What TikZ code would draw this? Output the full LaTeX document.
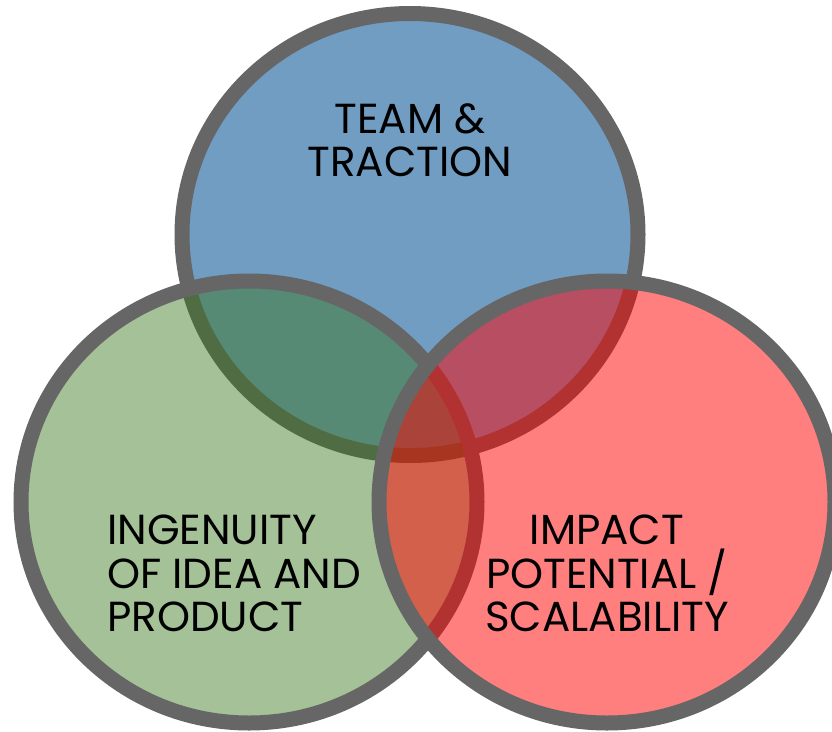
\documentclass[tikz,border=0pt]{standalone}
\usepackage{fontspec}
\setmainfont{Poppins}
\usepackage{tikz}
\usetikzlibrary{positioning}
\definecolor{teamblue}{RGB}{113,157,195}
\definecolor{ideagreen}{RGB}{55,117,24}
\definecolor{impactred}{RGB}{255,0,0}
\definecolor{ringgray}{RGB}{102,102,102}

\begin{document}
\begin{tikzpicture}[x=1pt, y=-1pt,
    ring/.style={draw=ringgray, line width=15pt},
    label/.style={inner sep=0pt, text=black, font=\fontsize{42}{43.5}\selectfont}]
    \useasboundingbox (0,0) rectangle (832,731);

    % The three circles, later ones see-through
    \draw[ring, fill=teamblue] (410,234.5) ellipse [x radius=228pt, y radius=221pt];
    \draw[ring, fill=ideagreen, fill opacity=0.45] (249,502) ellipse [x radius=228pt, y radius=221pt];
    \draw[ring, fill=impactred, fill opacity=0.5] (607,502) ellipse [x radius=228pt, y radius=221pt];

    % Labels
    \node[label, align=center, anchor=north] (team) at (410,103) {TEAM \&\\TRACTION};
    \node[label, align=left, anchor=north west] (idea) at (107,515) {INGENUITY\\OF IDEA AND\\PRODUCT};
    \node[label, align=center, anchor=north] (impact) at (607,515) {IMPACT\\POTENTIAL /\\SCALABILITY};
\end{tikzpicture}
\end{document}
